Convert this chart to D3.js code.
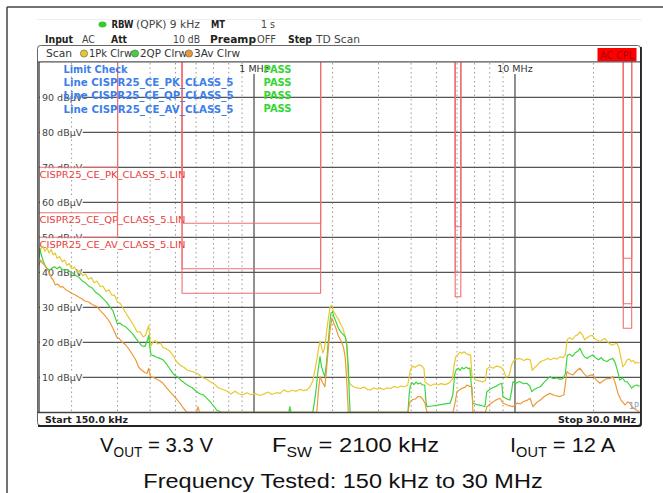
<!DOCTYPE html>
<html>
<head>
<meta charset="utf-8">
<script src="https://cdn.jsdelivr.net/npm/d3@7"></script>
<style>
body{margin:0;background:#fff;}
svg{display:block;font-family:"DejaVu Sans",Verdana,sans-serif;}
</style>
</head>
<body>
<div id="chart"></div>
<script>
// ---- data (frequencies in MHz, levels in dBuV) ----
var bandEdges = [[0.15,0.30],[0.53,1.8],[5.9,6.2],[26,28]];
var pkLimit = [70,54,53,44];
var qpLimit = [57,41,40,31];
var avLimit = [50,34,33,24];
var limitNames = ["CISPR25_CE_PK_CLASS_5.LIN","CISPR25_CE_QP_CLASS_5.LIN","CISPR25_CE_AV_CLASS_5.LIN"];
var checkLines = ["Line CISPR25_CE_PK_CLASS_5","Line CISPR25_CE_QP_CLASS_5","Line CISPR25_CE_AV_CLASS_5"];
var levelTicks = [10,20,30,40,50,60,70,80,90];
var minorFreqs = [0.2,0.3,0.4,0.5,0.6,0.7,0.8,0.9,2,3,4,5,6,7,8,9,20];
var majorFreqs = [1,10];
var majorLabels = ["1 MHz","10 MHz"];

var pkTrace = [[0.150,44],[0.152,46.5],[0.155,47.5],[0.158,46],[0.161,47],[0.164,45.5],[0.167,46.5],[0.170,45],[0.173,45.5],[0.176,44],[0.180,44.5],[0.184,43],[0.188,43.5],[0.192,42],[0.196,42.5],[0.200,41],[0.205,41.5],[0.210,40],[0.215,40.5],[0.220,39],[0.226,39.5],[0.232,38],[0.238,38.5],[0.244,37],[0.250,37.5],[0.257,36],[0.264,36],[0.271,34.5],[0.278,35],[0.285,33.5],[0.292,33.5],[0.300,31.5],[0.308,31],[0.316,29.5],[0.325,28],[0.335,26.5],[0.345,25],[0.356,23],[0.366,23],[0.376,21.5],[0.384,22],[0.390,23.5],[0.395,24.8],[0.399,21],[0.403,19],[0.410,20],[0.418,20.5],[0.428,19.5],[0.438,19.8],[0.448,18.5],[0.460,18.2],[0.475,17.5],[0.488,16.4],[0.500,15],[0.512,14],[0.525,13.3],[0.540,12.8],[0.555,12],[0.570,11.8],[0.590,11.5],[0.610,11],[0.630,10],[0.655,9.5],[0.680,8.7],[0.705,8],[0.730,7],[0.760,6.5],[0.790,6],[0.815,5.2],[0.845,6],[0.875,5.3],[0.905,5],[0.940,5.6],[0.975,5],[1.010,5.4],[1.050,4.8],[1.090,5.2],[1.130,5.8],[1.170,5.1],[1.220,5.6],[1.260,5.4],[1.300,6.4],[1.350,5.8],[1.400,6.3],[1.450,6],[1.500,6.6],[1.550,6.2],[1.600,6.5],[1.640,7.3],[1.680,9],[1.710,12],[1.740,15],[1.770,18.5],[1.790,20.3],[1.810,19],[1.835,17],[1.860,18],[1.890,22],[1.920,26],[1.955,30],[1.985,30.6],[2.010,29],[2.040,28.3],[2.075,27.3],[2.110,26.5],[2.150,25],[2.190,24],[2.230,22],[2.260,20.5],[2.280,15],[2.300,9.2],[2.340,8],[2.400,7.3],[2.480,7],[2.560,6.8],[2.640,7.2],[2.720,6.5],[2.800,6.4],[2.880,7],[2.960,6.6],[3.050,6.9],[3.140,6.5],[3.240,7],[3.340,6.8],[3.440,7.4],[3.550,7],[3.660,7.5],[3.780,7.3],[3.880,7.8],[3.930,10],[3.970,12],[4.050,13.2],[4.130,12.8],[4.210,13.2],[4.300,13.6],[4.400,13.2],[4.480,12.5],[4.520,8.7],[4.600,8.2],[4.750,7.6],[4.900,8.1],[5.050,7.8],[5.200,8.2],[5.400,7.9],[5.600,8.4],[5.760,9.5],[5.860,14],[5.940,16],[6.050,16.5],[6.150,17.2],[6.260,16.8],[6.380,17.3],[6.500,16.8],[6.650,16.4],[6.760,16.4],[6.840,10.5],[6.950,9.8],[7.100,9.2],[7.300,9],[7.500,8.7],[7.700,9],[7.800,12.3],[8.000,13],[8.250,12.6],[8.500,13.2],[8.760,13],[9.000,12.4],[9.250,10],[9.500,10.5],[9.700,13.5],[9.900,14.8],[10.15,15.2],[10.45,15.4],[10.80,14.8],[11.10,15.2],[11.45,15],[11.65,12],[11.90,12.8],[12.20,13.5],[12.50,14.5],[12.90,14.8],[13.30,15.4],[13.70,15],[14.10,15.5],[14.50,15.2],[14.90,15.9],[15.30,15.6],[15.60,16.5],[15.85,20.8],[16.20,21.3],[16.60,20.8],[17.00,21.8],[17.40,22.2],[17.75,23],[18.10,22.2],[18.50,20.7],[18.90,21.3],[19.30,21.8],[19.80,22],[20.20,21],[20.70,20.6],[21.20,20.2],[21.70,20.8],[22.10,21.1],[22.60,20.2],[23.10,19.5],[23.60,19.2],[24.10,19.5],[24.60,19.7],[25.00,18.5],[25.40,16],[25.90,13],[26.40,13.8],[26.90,15],[27.40,15.2],[27.90,14.5],[28.40,14.8],[28.90,14],[29.40,14.3],[30.00,14]];

var qpTrace = [[0.150,44],[0.151,47],[0.153,45],[0.156,43],[0.159,41.5],[0.162,41],[0.165,40.6],[0.168,41.2],[0.172,41.6],[0.176,41],[0.180,41.6],[0.184,40.8],[0.188,40.6],[0.192,40.8],[0.197,40.2],[0.202,39.8],[0.208,39],[0.214,38.5],[0.220,37.5],[0.226,37],[0.233,36],[0.240,35.5],[0.248,34.2],[0.256,33.5],[0.264,32.5],[0.272,31.5],[0.280,30.2],[0.288,29],[0.294,27],[0.299,25.4],[0.306,25.5],[0.314,24.8],[0.322,24.5],[0.332,23.5],[0.342,22.5],[0.352,21.2],[0.362,20],[0.372,19],[0.382,18.8],[0.390,20.5],[0.395,22],[0.399,18.5],[0.403,16.4],[0.412,16.2],[0.422,15.8],[0.435,15.4],[0.448,15],[0.460,14],[0.472,12.8],[0.485,11.5],[0.498,10.5],[0.512,10],[0.528,9],[0.545,8.2],[0.560,7.6],[0.580,7],[0.600,6],[0.620,5.3],[0.640,5],[0.660,4],[0.680,3],[0.700,1.8],[0.720,0.6],[0.750,0],[1.360,0],[1.372,1.6],[1.385,0],[1.680,0],[1.720,5],[1.760,12],[1.790,15.9],[1.815,13],[1.840,11.5],[1.870,10.2],[1.900,15],[1.935,22],[1.970,28.3],[2.000,28.7],[2.030,27],[2.070,25.5],[2.105,24],[2.150,23],[2.200,22.2],[2.235,21.6],[2.270,19],[2.298,13],[2.320,4],[2.335,0],[3.890,0],[3.930,5],[3.965,7.3],[4.030,8.5],[4.100,7.9],[4.180,8.6],[4.260,8.1],[4.330,8.4],[4.420,7.8],[4.510,7.8],[4.560,3],[4.600,1.6],[4.800,1.8],[5.000,2],[5.200,2.2],[5.400,2.4],[5.640,2.6],[5.780,5],[5.880,11],[5.960,12.2],[6.060,12.6],[6.160,12],[6.260,12.8],[6.380,12.4],[6.500,12.9],[6.620,12.5],[6.720,12.6],[6.800,8],[6.900,2.6],[7.150,2.2],[7.400,2],[7.670,1.6],[7.800,5.9],[8.000,6.5],[8.200,7],[8.450,7.4],[8.700,8],[8.900,8.3],[8.990,4.5],[9.200,4],[9.400,3.7],[9.560,3.5],[9.700,6],[9.820,8.7],[10.10,8.3],[10.40,8.8],[10.75,8.2],[11.10,8.3],[11.40,7.5],[11.60,5.9],[11.90,6.6],[12.20,7],[12.50,7.3],[12.90,8.5],[13.30,9.5],[13.60,10.2],[14.00,9.6],[14.50,9.8],[14.90,9.4],[15.30,9.7],[15.60,11],[15.85,16.2],[16.20,16.6],[16.60,16],[17.00,17],[17.40,17.4],[17.75,18.3],[18.10,16.8],[18.50,15.8],[18.90,15.4],[19.40,16],[19.90,16.4],[20.40,15.5],[20.90,15],[21.40,15.6],[21.90,14.8],[22.50,14.5],[23.00,15],[23.70,15.4],[24.20,14.2],[24.70,12],[25.20,9.2],[25.80,9.8],[26.40,8.8],[26.90,8.7],[27.50,7.8],[28.00,6.9],[28.60,7.5],[29.30,7.8],[30.00,7.4]];

var avTrace = [[0.150,42],[0.152,43.5],[0.155,42.5],[0.158,42],[0.161,41],[0.164,40],[0.167,38.5],[0.170,37.8],[0.173,36.4],[0.177,36.6],[0.181,35.8],[0.185,35.9],[0.190,35],[0.195,34.6],[0.200,34],[0.206,33.6],[0.212,33],[0.218,32.5],[0.225,31.8],[0.232,31.5],[0.240,30.8],[0.250,30.2],[0.258,29],[0.266,28],[0.274,26.8],[0.282,25.4],[0.290,23.5],[0.298,21.5],[0.305,21],[0.313,20],[0.322,19.3],[0.332,18],[0.342,16.5],[0.352,15],[0.362,12.8],[0.372,12],[0.382,11.3],[0.389,11.1],[0.395,12.6],[0.401,10.2],[0.410,10],[0.422,9.5],[0.435,9],[0.448,8.3],[0.460,7.2],[0.475,6],[0.490,4.9],[0.505,3.8],[0.520,2.6],[0.535,1.3],[0.553,0],[0.602,0],[0.610,1.6],[0.618,0],[1.740,0],[1.765,6],[1.790,10.2],[1.830,8.5],[1.870,7.3],[1.910,15],[1.955,23.5],[1.990,27],[2.020,25.5],[2.060,24],[2.100,22],[2.150,20.5],[2.200,18.7],[2.235,15.9],[2.270,8],[2.298,0],[3.890,0],[3.930,2],[3.965,3],[4.050,3.6],[4.150,3.8],[4.250,4.5],[4.330,4.5],[4.430,3.8],[4.520,2.6],[4.600,0],[5.790,0],[5.900,3],[6.000,5.9],[6.150,6.5],[6.300,6.9],[6.450,7.2],[6.550,7.8],[6.700,7.4],[6.840,7.3],[6.900,0],[7.700,0],[7.810,1.6],[8.100,2.6],[8.400,3.4],[8.760,4],[8.900,3.2],[9.000,2.6],[9.400,2],[9.820,1.6],[10.18,2.6],[10.50,2.4],[10.73,3],[11.10,3.4],[11.42,4],[11.60,2.5],[11.72,1.6],[12.10,2.8],[12.50,3.5],[13.00,4.6],[13.60,5.4],[14.20,4.8],[14.87,4.5],[15.40,5],[15.82,11.6],[16.20,11],[16.68,10.7],[17.20,11.8],[17.74,12.6],[18.30,11.2],[18.87,10.2],[19.40,10.6],[19.90,10.7],[20.50,9.2],[21.17,8.3],[21.80,9],[22.50,9.7],[23.10,9.6],[23.74,10.2],[24.30,8],[24.81,5.4],[25.50,3.5],[26.39,2.1],[27.10,3],[27.60,2.5],[28.07,1.6],[28.70,1],[29.35,0.5],[30.00,0.3]];

// ---- drawing ----
var W = 663, H = 493;
var svg = d3.select("#chart").append("svg").attr("width", W).attr("height", H);
svg.append("rect").attr("width", W).attr("height", H).attr("fill", "#fff");

var x = d3.scaleLog().domain([0.15, 30]).range([39, 639.5]);
var y = d3.scaleLinear().domain([0, 100]).range([412.3, 62.3]);

var YEL = "#e8c830", GRN = "#3fd43f", ORG = "#eb9a3a", RED = "#f07070";

// outer page frame
svg.append("line").attr("x1", 7).attr("x2", W).attr("y1", 7).attr("y2", 7).attr("stroke", "#444").attr("stroke-width", 1.5);
svg.append("line").attr("x1", 7).attr("x2", 7).attr("y1", 7).attr("y2", H).attr("stroke", "#444").attr("stroke-width", 1.5);
svg.append("line").attr("x1", 37).attr("x2", 642).attr("y1", 19.5).attr("y2", 19.5).attr("stroke", "#eee").attr("stroke-width", 1);

function txt(g, s, px, py, opts) {
    opts = opts || {};
    var t = g.append("text").attr("x", px).attr("y", py).text(s)
        .attr("font-size", opts.size || 10)
        .attr("font-weight", opts.bold ? "bold" : "normal")
        .attr("fill", opts.fill || "#222");
    if (opts.anchor) t.attr("text-anchor", opts.anchor);
    if (opts.len) t.attr("textLength", opts.len).attr("lengthAdjust", "spacingAndGlyphs");
    return t;
}

// header lines
var hdr = svg.append("g");
hdr.append("ellipse").attr("cx", 102.5).attr("cy", 24.5).attr("rx", 4).attr("ry", 3).attr("fill", "#3c3");
txt(hdr, "RBW", 111.5, 28, {bold: true, len: 22});
txt(hdr, "(QPK) 9 kHz", 136, 28, {fill: "#444", len: 64});
txt(hdr, "MT", 211, 28, {bold: true, len: 14});
txt(hdr, "1 s", 261, 28, {fill: "#444", len: 14});
txt(hdr, "Input", 45, 43, {bold: true, len: 28});
txt(hdr, "AC", 82, 43, {fill: "#444", len: 13});
txt(hdr, "Att", 111, 43, {bold: true, len: 16});
txt(hdr, "10 dB", 173, 43, {fill: "#444", len: 27});
txt(hdr, "Preamp", 210, 43, {bold: true, len: 46});
txt(hdr, "OFF", 257, 43, {fill: "#444", len: 19});
txt(hdr, "Step", 288, 43, {bold: true, len: 24});
txt(hdr, "TD Scan", 316, 43, {fill: "#444", len: 44});

// screen box
svg.append("rect").attr("x", 37.5).attr("y", 45.5).attr("width", 603).attr("height", 380)
    .attr("rx", 3).attr("fill", "#fff").attr("stroke", "#666").attr("stroke-width", 1);
txt(svg, "Scan", 46, 57, {fill: "#333", len: 26});
var scanDots = [[84, YEL, "1Pk Clrw", 89, 43], [135, GRN, "2QP Clrw", 140, 47], [189, ORG, "3Av Clrw", 194, 46]];
scanDots.forEach(function(d) {
    svg.append("circle").attr("cx", d[0]).attr("cy", 53.5).attr("r", 3.6).attr("fill", d[1]).attr("stroke", "#555").attr("stroke-width", 0.6);
    txt(svg, d[2], d[3], 57, {fill: "#333", len: d[4]});
});
svg.append("rect").attr("x", 597.5).attr("y", 48).attr("width", 39).attr("height", 13.5).attr("fill", "#f00");
txt(svg, "AC CPL", 617, 58.5, {fill: "#a00", anchor: "middle", len: 34});

// plot area
var plot = svg.append("g");
plot.append("clipPath").attr("id", "clip").append("rect")
    .attr("x", 39).attr("y", 62).attr("width", 601).attr("height", 351);

// dotted verticals
plot.selectAll(".minor").data(minorFreqs).enter().append("line")
    .attr("x1", function(d) { return x(d); }).attr("x2", function(d) { return x(d); })
    .attr("y1", 63).attr("y2", 412)
    .attr("stroke", "#999").attr("stroke-width", 1).attr("stroke-dasharray", "1.5,3");

// horizontal grid
plot.selectAll(".hgrid").data(levelTicks).enter().append("line")
    .attr("x1", 39).attr("x2", 640)
    .attr("y1", function(d) { return y(d); }).attr("y2", function(d) { return y(d); })
    .attr("stroke", "#555").attr("stroke-width", 1.2);

// major verticals with labels
majorFreqs.forEach(function(f, i) {
    plot.append("line").attr("x1", x(f)).attr("x2", x(f)).attr("y1", 74).attr("y2", 412)
        .attr("stroke", "#555").attr("stroke-width", 1.3);
    txt(plot, majorLabels[i], x(f), 72, {anchor: "middle", fill: "#333", size: 9.5});
});

// y labels
levelTicks.forEach(function(v) {
    var t = txt(plot, v + " dB\u00b5V", 42, y(v) + 3.5, {size: 9.5, fill: "#444"});
    var bb = t.node().getBBox();
    plot.insert("rect", function() { return t.node(); })
        .attr("x", 40).attr("y", y(v) - 4).attr("width", bb.width + 2).attr("height", 8).attr("fill", "#fff");
});

// limit labels
[pkLimit, qpLimit, avLimit].forEach(function(lim, i) {
    var ly = y(lim[0]) + 1;
    plot.append("rect").attr("x", 40).attr("y", ly).attr("width", 146).attr("height", 11).attr("fill", "#fff");
    txt(plot, limitNames[i], 39.5, ly + 9.5, {fill: "#e83a3a", size: 9.5, len: 146});
});

// limit lines
var lineGen = d3.line().x(function(d) { return x(d[0]); }).y(function(d) { return y(d[1]); });
var lim = plot.append("g").attr("clip-path", "url(#clip)");
[pkLimit, qpLimit, avLimit].forEach(function(vals) {
    bandEdges.forEach(function(b, i) {
        var pts = [];
        if (i > 0) pts.push([b[0], 100]);
        pts.push([b[0], vals[i]], [b[1], vals[i]], [b[1], 100]);
        lim.append("path").attr("d", lineGen(pts)).attr("fill", "none")
            .attr("stroke", RED).attr("stroke-width", 1.1);
    });
});

// traces
var tr = plot.append("g").attr("clip-path", "url(#clip)");
[[pkTrace, YEL], [qpTrace, GRN], [avTrace, ORG]].forEach(function(s) {
    tr.append("path").attr("d", lineGen(s[0])).attr("fill", "none")
        .attr("stroke", s[1]).attr("stroke-width", 1.2).attr("stroke-linejoin", "round");
});

// limit check block
var blue = "#3d80ea";
txt(plot, "Limit Check", 63.5, 72.5, {bold: true, fill: blue, len: 64});
checkLines.forEach(function(s, i) {
    txt(plot, s, 63.5, 86 + i * 13.3, {bold: true, fill: blue, len: 170});
});
for (var i = 0; i < 4; i++) {
    txt(plot, "PASS", 263.5, 72.5 + i * 13.3, {bold: true, fill: "#33d633", len: 28});
}

// plot borders
plot.append("line").attr("x1", 39).attr("x2", 39).attr("y1", 62).attr("y2", 412.5).attr("stroke", "#333").attr("stroke-width", 1.3);
plot.append("line").attr("x1", 37.5).attr("x2", 640.5).attr("y1", 61.8).attr("y2", 61.8).attr("stroke", "#555").attr("stroke-width", 1.2);
plot.append("line").attr("x1", 37.5).attr("x2", 640.5).attr("y1", 412.5).attr("y2", 412.5).attr("stroke", "#444").attr("stroke-width", 1.3);
svg.append("path").attr("d", "M641,47 V424 Q641,426 639,426 H38").attr("fill", "none").attr("stroke", "#222").attr("stroke-width", 1.8);
txt(svg, "1P", 629, 409, {size: 8, fill: "#8aa0b8"});

txt(svg, "Start 150.0 kHz", 45, 423, {bold: true, size: 9.5, fill: "#222", len: 83});
txt(svg, "Stop 30.0 MHz", 636, 423, {bold: true, size: 9.5, fill: "#222", anchor: "end", len: 78});

// caption
var cap = svg.append("g").attr("font-family", "'Liberation Sans', Arial, sans-serif").attr("fill", "#111");
function capText(px, py, sx, main, sub, rest) {
    var t = cap.append("text").attr("transform", "translate(" + px + "," + py + ") scale(" + sx + ",1)").attr("font-size", 21);
    t.append("tspan").text(main);
    t.append("tspan").attr("dy", 5).attr("font-size", 14).text(sub);
    t.append("tspan").attr("dy", -5).text(rest);
}
capText(100, 452, 0.97, "V", "OUT", " = 3.3 V");
capText(272, 452, 1.13, "F", "SW", " = 2100 kHz");
capText(510, 452, 1.04, "I", "OUT", " = 12 A");
cap.append("text").attr("transform", "translate(343,488) scale(1.12,1)")
    .attr("font-size", 21).attr("text-anchor", "middle").text("Frequency Tested: 150 kHz to 30 MHz");
</script>
</body>
</html>
